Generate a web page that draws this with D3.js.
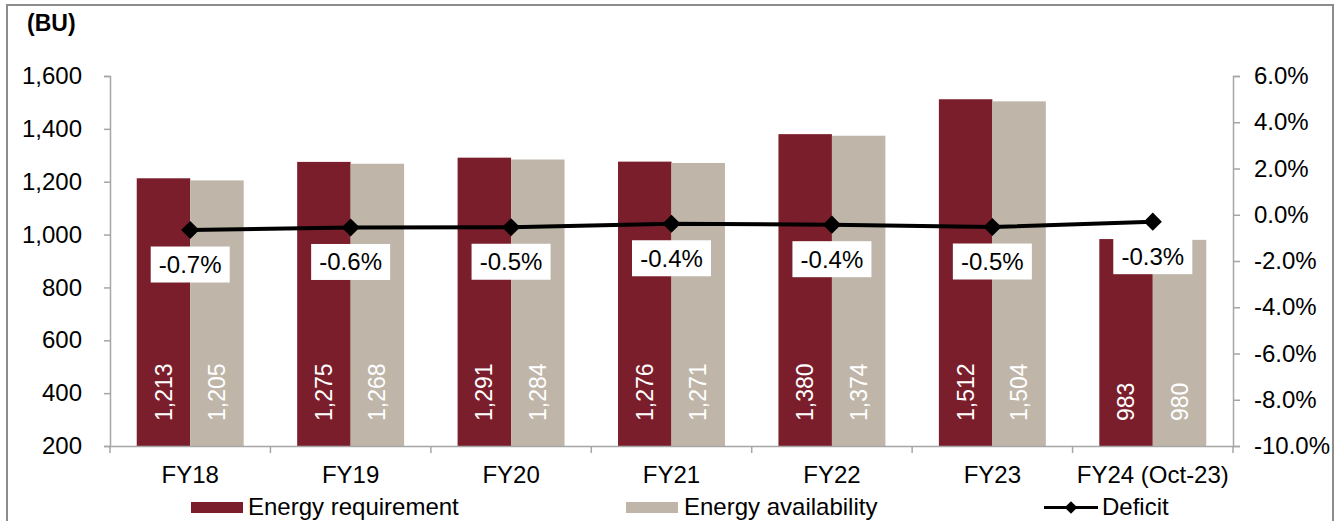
<!DOCTYPE html>
<html><head><meta charset="utf-8">
<script src="https://cdn.jsdelivr.net/npm/d3@7"></script>
<style>
html,body{margin:0;padding:0;background:#fff;}
text{font-family:"Liberation Sans",Arial,sans-serif;}
</style></head>
<body>
<svg id="chart" width="1343" height="521"></svg>
<script>
const categories = ["FY18","FY19","FY20","FY21","FY22","FY23","FY24 (Oct-23)"];
const requirement = [1213,1275,1291,1276,1380,1512,983];
const availability = [1205,1268,1284,1271,1374,1504,980];
const deficit = [-0.66,-0.55,-0.54,-0.39,-0.43,-0.53,-0.30];
const deficitLabels = ["-0.7%","-0.6%","-0.5%","-0.4%","-0.4%","-0.5%","-0.3%"];
const leftTicks = [200,400,600,800,1000,1200,1400,1600];
const rightTicks = [-10,-8,-6,-4,-2,0,2,4,6];

const RED="#7B1E2B", BEIGE="#BFB6A9", AX="#A6A6A6";
const FS=24;
const svg=d3.select("#chart");

// frame
svg.append("rect").attr("x",7).attr("y",5).attr("width",1326).attr("height",540)
  .attr("fill","none").attr("stroke","#8c8c8c").attr("stroke-width",2);

const mL=110, mR=1233, mT=76, mB=446;
const x=d3.scaleBand().domain(categories).range([mL,mR]).paddingInner(0).paddingOuter(0);
const xi=d3.scaleBand().domain(["req","avail"]).range([x.bandwidth()/6, x.bandwidth()*5/6]);
const y=d3.scaleLinear().domain([200,1600]).range([mB,mT]);
const y2=d3.scaleLinear().domain([-10,6]).range([mB,mT]);

// bars
const g=svg.append("g");
categories.forEach((c,i)=>{
  [["req",requirement[i],RED],["avail",availability[i],BEIGE]].forEach(([k,v,col])=>{
    const bx=x(c)+xi(k);
    g.append("rect").attr("x",bx).attr("y",y(v)).attr("width",xi.bandwidth())
      .attr("height",y(200)-y(v)).attr("fill",col);
    const cx=bx+xi.bandwidth()/2;
    g.append("text").attr("transform",`translate(${cx},${mB-25}) rotate(-90)`)
      .attr("text-anchor","start").attr("dy","0.35em").attr("fill","#fff")
      .attr("font-size",23).text(d3.format(",")(v));
  });
});

// axes
const axL=d3.axisLeft(y).tickValues(leftTicks).tickFormat(d3.format(",")).tickSize(6).tickPadding(22);
const gl=svg.append("g").attr("transform",`translate(${mL},0)`).call(axL);
const axR=d3.axisRight(y2).tickValues(rightTicks).tickFormat(d=>d.toFixed(1)+"%").tickSize(7).tickPadding(14);
const gr=svg.append("g").attr("transform",`translate(${mR},0)`).call(axR);
const axB=d3.axisBottom(x).tickSize(0).tickPadding(20);
const gb=svg.append("g").attr("transform",`translate(0,${mB})`).call(axB);
[gl,gr,gb].forEach(a=>{
  a.select(".domain").attr("stroke",AX).attr("stroke-width",1.5);
  a.selectAll(".tick line").attr("stroke",AX).attr("stroke-width",1.5);
  a.selectAll("text").attr("font-size",FS).attr("fill","#000").attr("font-family","Liberation Sans, Arial, sans-serif");
});
gb.selectAll(".tick text").attr("dy","0.71em");
// category boundary ticks
const bounds=categories.map(c=>x(c)).concat([mR]);
svg.append("g").selectAll("line").data(bounds).join("line")
  .attr("x1",d=>d).attr("x2",d=>d).attr("y1",mB).attr("y2",mB+7)
  .attr("stroke",AX).attr("stroke-width",1.5);

// deficit line
const px=c=>x(c)+x.bandwidth()/2;
const line=d3.line().x((d,i)=>px(categories[i])).y(d=>y2(d));
svg.append("path").datum(deficit).attr("d",line).attr("fill","none")
  .attr("stroke","#000").attr("stroke-width",4);
deficit.forEach((d,i)=>{
  svg.append("path").attr("d",d3.symbol().type(d3.symbolSquare).size(165)())
    .attr("transform",`translate(${px(categories[i])},${y2(d)}) rotate(45)`).attr("fill","#000");
});
// labels
deficit.forEach((d,i)=>{
  const cx=px(categories[i]), cy=y2(d)+34.5;
  svg.append("rect").attr("x",cx-39.5).attr("y",cy-18).attr("width",79).attr("height",36).attr("fill","#fff");
  svg.append("text").attr("x",cx).attr("y",cy).attr("dy","0.35em").attr("text-anchor","middle")
    .attr("font-size",FS).attr("fill","#000").text(deficitLabels[i]);
});

// title
svg.append("text").attr("x",27).attr("y",31).attr("font-size",23).attr("font-weight","bold").text("(BU)");

// legend
const ly=515;
svg.append("rect").attr("x",191).attr("y",502).attr("width",52).attr("height",11).attr("fill",RED);
svg.append("text").attr("x",248).attr("y",ly).attr("font-size",FS).text("Energy requirement");
svg.append("rect").attr("x",626).attr("y",502).attr("width",52).attr("height",11).attr("fill",BEIGE);
svg.append("text").attr("x",684).attr("y",ly).attr("font-size",FS).text("Energy availability");
svg.append("line").attr("x1",1044).attr("x2",1098).attr("y1",507.5).attr("y2",507.5).attr("stroke","#000").attr("stroke-width",3);
svg.append("path").attr("d",d3.symbol().type(d3.symbolSquare).size(80)())
  .attr("transform","translate(1071,507.5) rotate(45)").attr("fill","#000");
svg.append("text").attr("x",1102).attr("y",ly).attr("font-size",FS).text("Deficit");
</script>
</body></html>
